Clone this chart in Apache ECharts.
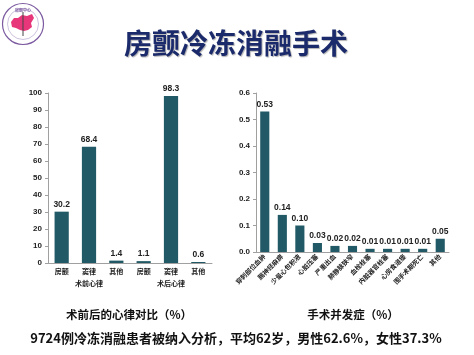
<!DOCTYPE html>
<html><head><meta charset="utf-8">
<script src="https://cdn.jsdelivr.net/npm/echarts@6/dist/echarts.min.js"></script>
<style>html,body{margin:0;padding:0;background:#fff}#c{width:474px;height:355px}</style>
</head><body><div id="c"></div>
<script>
const leftCats = ['房颤','窦律','其他','房颤','窦律','其他'];
const leftGroups = ['术前心律','术后心律'];
const leftValues = [30.2, 68.4, 1.4, 1.1, 98.3, 0.6];
const rightCats = ['穿刺部位血肿','膈神经麻痹','少量心包积液','心脏压塞','严重出血','肺静脉狭窄','血栓栓塞','内脏器官栓塞','心房食道瘘','围手术期死亡','其他'];
const rightValues = [0.53, 0.14, 0.10, 0.034, 0.023, 0.023, 0.012, 0.012, 0.012, 0.012, 0.05];
const leftTicks = [0,10,20,30,40,50,60,70,80,90,100];
const rightTicks = [0,0.1,0.2,0.3,0.4,0.5,0.6];

const FONT = '"Liberation Sans","Noto Sans CJK SC",sans-serif';
const BAR = '#215a66';
const AX = '#a0a0a0';
const chart = echarts.init(document.getElementById('c'));
chart.setOption({
  animation:false,
  textStyle:{fontFamily:FONT},
  grid:[
    {left:48,right:262,top:93,bottom:92},
    {left:256,right:25,top:93,bottom:103}
  ],
  xAxis:[
    {gridIndex:0,type:'category',data:leftCats,
     axisLine:{lineStyle:{color:AX}},axisTick:{length:16,lineStyle:{color:AX}},
     axisLabel:{color:'#222',fontSize:7,fontWeight:'bold',margin:6,interval:0}},
    {gridIndex:0,type:'category',data:leftGroups,position:'bottom',
     axisLine:{show:false},axisTick:{length:28,lineStyle:{color:AX}},
     axisLabel:{color:'#222',fontSize:7,fontWeight:'bold',margin:18,interval:0}},
    {gridIndex:1,type:'category',data:rightCats,
     axisLine:{lineStyle:{color:AX}},axisTick:{length:3,lineStyle:{color:AX}},
     axisLabel:{color:'#222',fontSize:6.5,fontWeight:'bold',rotate:45,margin:4,interval:0}}
  ],
  yAxis:[
    {gridIndex:0,type:'value',min:leftTicks[0],max:leftTicks[leftTicks.length-1],interval:10,
     axisLine:{show:true,lineStyle:{color:AX}},axisTick:{show:true,length:3,lineStyle:{color:AX}},
     splitLine:{show:false},
     axisLabel:{color:'#222',fontSize:8,fontWeight:'bold',margin:6}},
    {gridIndex:1,type:'value',min:rightTicks[0],max:rightTicks[rightTicks.length-1],interval:0.1,
     axisLine:{show:true,lineStyle:{color:AX}},axisTick:{show:true,length:3,lineStyle:{color:AX}},
     splitLine:{show:false},
     axisLabel:{color:'#222',fontSize:8,fontWeight:'bold',margin:6,formatter:v=>v.toFixed(1)}}
  ],
  series:[
    {type:'bar',xAxisIndex:0,yAxisIndex:0,data:leftValues,barWidth:'52%',
     itemStyle:{color:BAR},
     label:{show:true,position:'top',color:'#222',fontSize:8.5,fontWeight:'bold',distance:3,formatter:p=>p.value.toFixed(1)}},
    {type:'bar',xAxisIndex:2,yAxisIndex:1,data:rightValues,barWidth:'52%',
     itemStyle:{color:BAR},
     label:{show:true,position:'top',color:'#222',fontSize:8.5,fontWeight:'bold',distance:3,formatter:p=>p.value.toFixed(2)}}
  ],
  graphic:[
    {type:'text',x:236,y:43,style:{text:'房颤冷冻消融手术',font:'bold 28px "Noto Sans CJK SC",sans-serif',fill:'#1b2a6b',textAlign:'center',textVerticalAlign:'middle',textShadowColor:'rgba(0,0,0,0.3)',textShadowOffsetX:1,textShadowOffsetY:1,textShadowBlur:1},z:10},
    {type:'text',x:129,y:315,style:{text:'术前后的心律对比（%）',font:'bold 11.5px "Noto Sans CJK SC",sans-serif',fill:'#111',textAlign:'center',textVerticalAlign:'middle'}},
    {type:'text',x:353,y:315,style:{text:'手术并发症（%）',font:'bold 11.5px "Noto Sans CJK SC",sans-serif',fill:'#111',textAlign:'center',textVerticalAlign:'middle'}},
    {type:'text',x:236,y:338,style:{text:'9724例冷冻消融患者被纳入分析，平均62岁，男性62.6%，女性37.3%',font:'bold 13px "Noto Sans CJK SC",sans-serif',fill:'#111',textAlign:'center',textVerticalAlign:'middle'}},
    {type:'circle',shape:{cx:23,cy:24,r:20.5},style:{fill:'#fff',stroke:'#7b5aa0',lineWidth:1.2}},
    {type:'circle',shape:{cx:23,cy:24,r:15.5},style:{fill:'none',stroke:'#b9a8d0',lineWidth:0.7}},
    {type:'polygon',shape:{points:[[11,22],[14,18],[18,18],[22,15],[27,16],[32,14],[34,18],[31,23],[32,27],[28,30],[24,31],[20,30],[16,28],[12,27]]},style:{fill:'#e8367a'}},
    {type:'line',shape:{x1:23,y1:12,x2:23,y2:36},style:{stroke:'#444',lineWidth:1}},
    {type:'text',x:23,y:10,style:{text:'房颤中心',font:'bold 4px "Noto Sans CJK SC",sans-serif',fill:'#7b5aa0',textAlign:'center',textVerticalAlign:'middle'}}
  ]
});
</script></body></html>
